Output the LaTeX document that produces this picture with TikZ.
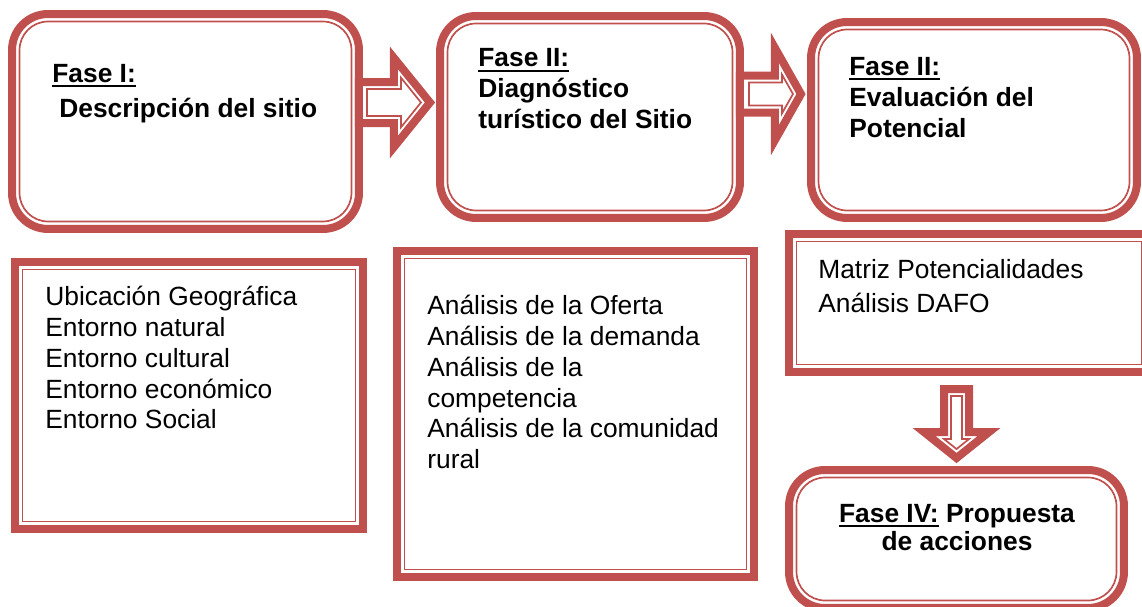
\documentclass[tikz,border=0pt]{standalone}
\usepackage{fontspec}
\setmainfont{Liberation Sans}
\usetikzlibrary{calc,positioning}

\definecolor{phasered}{HTML}{C0504D}
\newcommand{\phaseul}[1]{{\setbox0\hbox{#1}\rlap{\rule[-2.8pt]{\wd0}{1.1pt}}\box0}}

\begin{document}
\begin{tikzpicture}[x=0.02cm,y=-0.02cm,
  thickline/.style={draw=phasered,line width=0.16cm},
  thinline/.style={draw=phasered,line width=0.034cm},
  roundbox/.style={thickline,rounded corners=0.72cm,inner sep=0,outer sep=0},
  squarebox/.style={thickline,inner sep=0,outer sep=0},
  title/.style={font=\fontsize{15}{17.6}\selectfont\bfseries,align=left,inner sep=0,anchor=north west},
  body/.style={font=\fontsize{15}{17.6}\selectfont,align=left,inner sep=0,anchor=north west}]
  \useasboundingbox (0,0) rectangle (1142,607);
  \clip (0,0) rectangle (1142,607);

  % phase boxes
  \node[roundbox,minimum width=6.94cm,minimum height=4.3cm] at (185.5,121.5) (b1) {};
  \node[roundbox,minimum width=6cm,minimum height=4.04cm] at (590,117) (b2) {};
  \node[roundbox,minimum width=6.52cm,minimum height=3.92cm] at (974,120) (b3) {};
  \node[squarebox,minimum width=6.96cm,minimum height=5.34cm] at (189,395.5) (b4) {};
  \node[squarebox,minimum width=7.14cm,minimum height=6.52cm] at (575.5,414) (b5) {};
  \node[squarebox,minimum width=7.2cm,minimum height=2.76cm] at (969,303) (b6) {};
  \node[roundbox,minimum width=6.7cm,minimum height=2.76cm] at (956.5,539) (b7) {};

  \foreach \b in {b1,b2,b3,b7}
    \draw[thinline,rounded corners=0.57cm]
    ([shift={(0.15cm,-0.15cm)}]\b.north west) rectangle ([shift={(-0.15cm,0.15cm)}]\b.south east);
  \foreach \b in {b4,b5,b6}
    \draw[thinline]
    ([shift={(0.15cm,-0.15cm)}]\b.north west) rectangle ([shift={(-0.15cm,0.15cm)}]\b.south east);

  % block arrows
  \draw[thickline] ([yshift=0.79cm]b1.east) -- ++(35,0) -- ++(0,-24) -- ++(36,44.5)
  -- ++(-36,44.5) -- ++(0,-24) -- ++(-35,0) -- cycle;
  \draw[thinline] ([xshift=0.16cm,yshift=0.65cm]b1.east) -- ++(34,0) -- ++(0,-11.3) -- ++(20,24.8)
  -- ++(-20,24.8) -- ++(0,-11.3) -- ++(-34,0) -- cycle;

  \draw[thickline] ([yshift=0.83cm]b2.east) -- ++(35,0) -- ++(0,-27.5) -- ++(26,46)
  -- ++(-26,46) -- ++(0,-27.5) -- ++(-35,0) -- cycle;
  \draw[thinline] ([xshift=0.18cm,yshift=0.69cm]b2.east) -- ++(33,0) -- ++(0,-7.9) -- ++(11,19.4)
  -- ++(-11,19.4) -- ++(0,-7.9) -- ++(-33,0) -- cycle;

  \draw[thickline] ([xshift=-0.25cm,yshift=1.62cm]b7.north) -- ++(25,0) -- ++(0,43) -- ++(20,0)
  -- ++(-32.5,26) -- ++(-32.5,-26) -- ++(20,0) -- cycle;
  \draw[thinline] ([xshift=-0.11cm,yshift=1.48cm]b7.north) -- ++(11,0) -- ++(0,43) -- ++(7,0)
  -- ++(-12.5,10) -- ++(-12.5,-10) -- ++(7,0) -- cycle;

  % texts
  \node[title] at (52,60.3) (t1) {\strut\phaseul{Fase I:}\\[2.2pt]\hspace*{4pt}Descripción del sitio};
  \node[title] at (478,45) (t2) {\strut\phaseul{Fase II:}\\Diagnóstico\\turístico del Sitio};
  \node[title] at (849,53.3) (t3) {\strut\phaseul{Fase II:}\\Evaluación del\\Potencial};
  \node[body] at (45,283.3) (t4)
  {\strut Ubicación Geográfica\\Entorno natural\\Entorno cultural\\Entorno económico\\Entorno Social};
  \node[body] at (427,292.3) (t5)
  {\strut Análisis de la Oferta\\Análisis de la demanda\\Análisis de la\\competencia\\Análisis de la comunidad\\rural};
  \node[body] at (818,256.3) (t6) {\strut Matriz Potencialidades\\[2pt]Análisis DAFO};
  \node[title,anchor=north,align=center] at (957,500.3) (t7)
  {\strut\phaseul{Fase IV:} Propuesta\\[-1.6pt]de acciones};
\end{tikzpicture}
\end{document}
